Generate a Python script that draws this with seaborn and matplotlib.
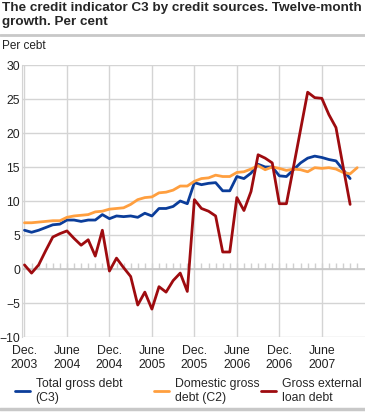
import numpy as np
import pandas as pd
import matplotlib
matplotlib.use("Agg")
import matplotlib.pyplot as plt
from matplotlib.lines import Line2D
import seaborn as sns

# Monthly twelve-month growth, Dec. 2003 onwards
total_c3 = [5.7, 5.4, 5.7, 6.1, 6.5, 6.6, 7.2, 7.2, 7.0, 7.2, 7.2, 8.0,
            7.4, 7.8, 7.7, 7.8, 7.6, 8.2, 7.8, 8.9, 8.9, 9.2, 10.0, 9.6,
            12.7, 12.4, 12.6, 12.7, 11.5, 11.5, 13.6, 13.3, 14.1, 15.4, 15.0, 15.0,
            13.7, 13.6, 14.6, 15.6, 16.3, 16.6, 16.4, 16.1, 15.9, 14.6, 13.3]
domestic_c2 = [6.8, 6.8, 6.9, 7.0, 7.1, 7.1, 7.6, 7.8, 7.9, 8.0, 8.4, 8.5,
               8.8, 8.9, 9.0, 9.5, 10.2, 10.5, 10.6, 11.2, 11.3, 11.6, 12.2, 12.2,
               12.9, 13.3, 13.4, 13.8, 13.6, 13.6, 14.2, 14.3, 14.7, 15.2, 14.6, 15.0,
               14.8, 14.5, 14.7, 14.6, 14.3, 14.9, 14.8, 14.9, 14.7, 14.2, 14.0, 14.9]
external = [0.6, -0.6, 0.6, 2.7, 4.7, 5.2, 5.6, 4.5, 3.5, 4.3, 1.9, 5.7,
            -0.3, 1.6, 0.2, -1.1, -5.3, -3.4, -5.9, -2.6, -3.4, -1.7, -0.6, -3.3,
            10.2, 8.9, 8.5, 7.8, 2.5, 2.5, 10.5, 8.6, 11.4, 16.8, 16.3, 15.6,
            9.6, 9.6, 15.0, 20.5, 26.0, 25.2, 25.1, 22.7, 20.8, 15.1, 9.5]

tick_labels = ["Dec.\n2003", "June\n2004", "Dec.\n2004", "June\n2005",
               "Dec.\n2005", "June\n2006", "Dec.\n2006", "June\n2007"]
series_names = ["Total gross debt\n(C3)", "Domestic gross\ndebt (C2)", "Gross external\nloan debt"]
colors = ["#0b3d9a", "#ff9f3f", "#9e0b0f"]

sns.set_style("whitegrid")
plt.rcParams['font.family'] = ['Liberation Sans', 'DejaVu Sans']

frames = []
for name, vals in zip(series_names, [total_c3, domestic_c2, external]):
    frames.append(pd.DataFrame({"month": np.arange(len(vals)), "value": vals, "series": name}))
df = pd.concat(frames, ignore_index=True)

fig = plt.figure(figsize=(3.65, 4.13), dpi=100)
ax = fig.add_axes([22 / 365, 1 - 337 / 413, 343 / 365, 272 / 413])

sns.lineplot(data=df, x="month", y="value", hue="series", palette=colors,
             hue_order=series_names, linewidth=2, ax=ax, legend=False, zorder=3)

months = np.arange(len(domestic_c2))
# small monthly ticks sitting on the zero line
ax.vlines(months, 0, 0.9, color="#d0d0d0", linewidth=1, zorder=1)
ax.axhline(0, color="#c8c8c8", linewidth=1.2, zorder=1)

ax.set_xlim(-0.35, 48.1)
ax.set_ylim(-10, 30)
ax.set_yticks(range(-10, 31, 5))
ax.set_xticks(range(0, 48, 6))
ax.set_xticklabels(tick_labels)
ax.set_xlabel("")
ax.set_ylabel("")
ax.tick_params(axis="both", labelsize=8.8, length=0, colors="#222222")
ax.tick_params(axis="y", pad=1.5)
ax.tick_params(axis="x", pad=6)
ax.grid(True, color="#d4d4d4", linewidth=1)
for s in ["top", "right", "bottom"]:
    ax.spines[s].set_visible(False)
ax.spines["left"].set_color("#d4d4d4")

fig.text(0.006, 0.994, "The credit indicator C3 by credit sources. Twelve-month\ngrowth. Per cent",
         fontsize=9.7, fontweight="bold", va="top", ha="left", linespacing=1.2)
fig.text(0.006, 1 - 52 / 413, "Per cebt", fontsize=8.5, va="bottom", ha="left", color="#222222")
fig.add_artist(Line2D([0, 1], [1 - 35 / 413] * 2, color="#c8c8c8", linewidth=2))
fig.add_artist(Line2D([0, 1], [1 - 409 / 413] * 2, color="#c8c8c8", linewidth=2.5))

# one legend entry per column, placed like the reference
legend_x = [10 / 365, 149 / 365, 256 / 365]
for c, name, x0 in zip(colors, series_names, legend_x):
    fig.legend([Line2D([0], [0], color=c, linewidth=2)], [name], loc="lower left",
               bbox_to_anchor=(x0, 0.01), frameon=False, fontsize=8.8,
               handlelength=1.2, handletextpad=0.5, borderaxespad=0)

fig.savefig("out.png", dpi=100)
